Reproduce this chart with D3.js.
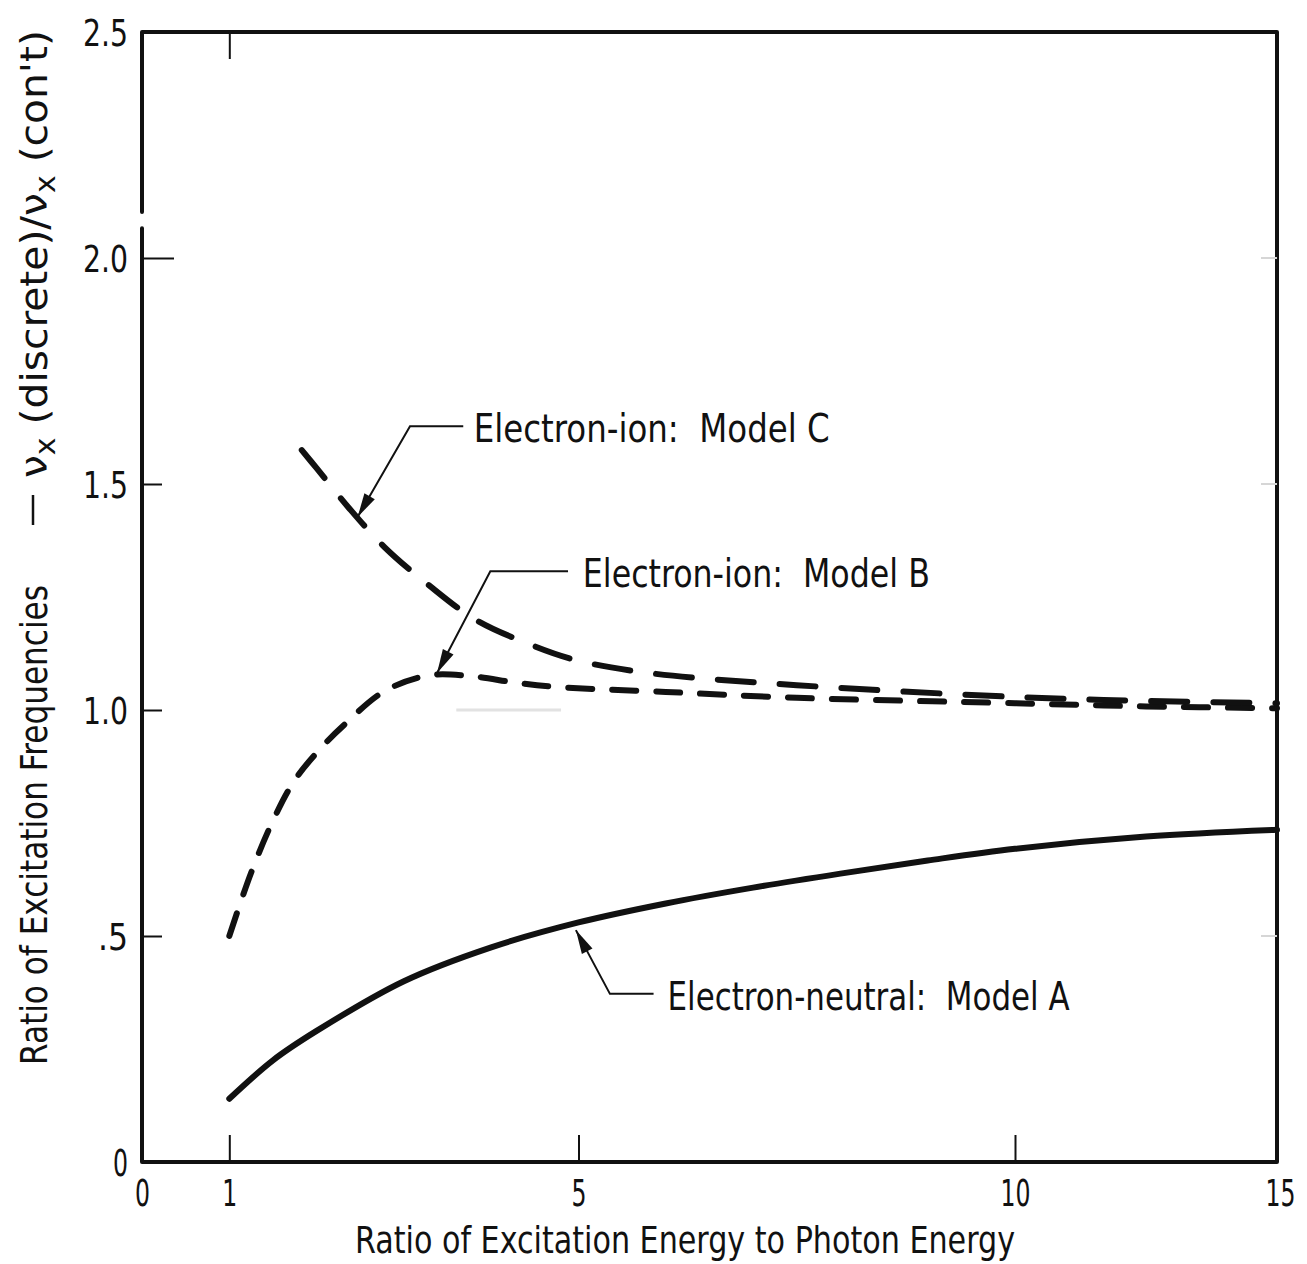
<!DOCTYPE html>
<html>
<head>
<meta charset="utf-8">
<script src="https://cdn.jsdelivr.net/npm/d3@7"></script>
<style>
  html, body { margin: 0; padding: 0; background: #fff; }
  svg { display: block; }
  text { font-family: "DejaVu Sans Condensed", "Liberation Sans Narrow", sans-serif; fill: #111; }
</style>
</head>
<body>
<svg id="chart" width="1307" height="1264"></svg>
<script>
// Ratio of excitation energy to photon energy (x) and frequency ratios (y)
const xTickValues = [0, 1, 5, 10, 15];
const xTickLabels = ["0", "1", "5", "10", "15"];
const yTickValues = [0, 0.5, 1.0, 1.5, 2.0, 2.5];
const yTickLabels = ["0", ".5", "1.0", "1.5", "2.0", "2.5"];

// Electron-neutral: Model A (solid)
const energyA = [1, 1.5, 2, 3, 4, 5, 6, 7, 8, 9, 10, 12.5, 15];
const modelA  = [0.14, 0.225, 0.29, 0.40, 0.475, 0.53, 0.572, 0.607, 0.638, 0.667, 0.693, 0.72, 0.735];

// Electron-ion: Model B (short dashes)
const energyB = [1, 1.25, 1.5, 1.75, 2.06, 2.32, 2.78, 3.3, 3.76, 4.3, 4.75, 6, 7.5, 10, 12.5, 15];
const modelB  = [0.50, 0.64, 0.755, 0.845, 0.918, 0.968, 1.042, 1.077, 1.075, 1.06, 1.051, 1.04, 1.027, 1.015, 1.008, 1.004];

// Electron-ion: Model C (long dashes)
const energyC = [1.83, 2.0, 2.37, 2.78, 3.28, 3.81, 4.38, 4.96, 5.8, 7.5, 10, 12.5, 15];
const modelC  = [1.575, 1.535, 1.447, 1.36, 1.277, 1.201, 1.15, 1.111, 1.082, 1.055, 1.029, 1.02, 1.015];

const ink = "#111";
const svg = d3.select("#chart");

// The printed abscissa is compressed beyond 10, so the scale has a knot there.
const x = d3.scaleLinear().domain([0, 10, 15]).range([142, 1015, 1277]);
const y = d3.scaleLinear().domain([0, 2.5]).range([1162, 32]);

// ---- frame (left edge has a small break just above 2.0)
svg.append("path")
  .attr("d", `M${x(0)},${y(0)}V${y(2.066)}M${x(0)},${y(2.102)}V${y(2.5)}H${x(15)}V${y(0)}H${x(0)}`)
  .attr("fill", "none").attr("stroke", ink).attr("stroke-width", 4)
  .attr("stroke-linejoin", "round").attr("stroke-linecap", "round");

// ---- y axis
const yAxis = svg.append("g").attr("transform", `translate(${x(0)},0)`)
  .call(d3.axisLeft(y).tickValues(yTickValues)
    .tickFormat((d, i) => yTickLabels[i]).tickSize(-20).tickPadding(14));
yAxis.select(".domain").remove();
yAxis.selectAll(".tick line").attr("stroke", ink).attr("stroke-width", 2)
  .attr("x2", d => d === 2.0 ? 32 : 20)
  .attr("display", d => (d === 0 || d === 2.5) ? "none" : null);
yAxis.selectAll(".tick text").attr("font-size", 37).attr("fill", ink)
  .attr("font-family", null).attr("dy", "0.36em")
  .attr("textLength", (d, i) => 15 * yTickLabels[i].length)
  .attr("lengthAdjust", "spacingAndGlyphs");

// faint right-hand ticks
svg.append("g").selectAll("line").data([0.5, 1.5, 2.0]).join("line")
  .attr("x1", x(15) - 16).attr("x2", x(15))
  .attr("y1", d => y(d)).attr("y2", d => y(d))
  .attr("stroke", "#d6d6d6").attr("stroke-width", 2);

// ---- x axis
const xAxis = svg.append("g").attr("transform", `translate(0,${y(0)})`)
  .call(d3.axisBottom(x).tickValues(xTickValues)
    .tickFormat((d, i) => xTickLabels[i]).tickSize(-27).tickPadding(18));
xAxis.select(".domain").remove();
xAxis.selectAll(".tick line").attr("stroke", ink).attr("stroke-width", 2)
  .attr("display", d => (d === 0 || d === 15) ? "none" : null);
xAxis.selectAll(".tick text").attr("font-size", 37).attr("fill", ink)
  .attr("font-family", null).attr("dy", "0.71em")
  .attr("dx", d => d === 15 ? 3 : 0)
  .attr("textLength", (d, i) => 15 * xTickLabels[i].length)
  .attr("lengthAdjust", "spacingAndGlyphs");

// single tick on the top edge at x = 1
const topAxis = svg.append("g").attr("transform", `translate(0,${y(2.5)})`)
  .call(d3.axisTop(x).tickValues([1]).tickSize(-27).tickFormat(""));
topAxis.select(".domain").remove();
topAxis.selectAll(".tick line").attr("stroke", ink).attr("stroke-width", 2);

// faint guide at unity
svg.append("line")
  .attr("x1", x(3.6)).attr("x2", x(4.8)).attr("y1", y(1.0)).attr("y2", y(1.0))
  .attr("stroke", "#e2e2e2").attr("stroke-width", 3);

// ---- axis titles
svg.append("text")
  .attr("x", 355).attr("y", 1253)
  .attr("font-size", 38)
  .attr("textLength", 660).attr("lengthAdjust", "spacingAndGlyphs")
  .text("Ratio of Excitation Energy to Photon Energy");

const yTitle = svg.append("g").attr("transform", "translate(47,1065) rotate(-90)");
yTitle.append("text").attr("x", 0).attr("y", 0)
  .attr("font-size", 38)
  .attr("textLength", 480).attr("lengthAdjust", "spacingAndGlyphs")
  .text("Ratio of Excitation Frequencies");
yTitle.append("line").attr("x1", 540).attr("x2", 570).attr("y1", -14).attr("y2", -14)
  .attr("stroke", ink).attr("stroke-width", 2.5);
const nuText = yTitle.append("text").attr("x", 587).attr("y", 0)
  .attr("font-size", 38)
  .attr("textLength", 448).attr("lengthAdjust", "spacingAndGlyphs");
nuText.append("tspan").text("ν");
nuText.append("tspan").attr("dy", 8).attr("font-size", 28).text("x");
nuText.append("tspan").attr("dy", -8).text(" (discrete)/ν");
nuText.append("tspan").attr("dy", 8).attr("font-size", 28).text("x");
nuText.append("tspan").attr("dy", -8).text(" (con't)");

// ---- curves
const line = d3.line().x(d => x(d[0])).y(d => y(d[1])).curve(d3.curveCatmullRom.alpha(0.5));

svg.append("path").datum(d3.zip(energyA, modelA))
  .attr("d", line).attr("fill", "none").attr("stroke", ink)
  .attr("stroke-width", 6).attr("stroke-linecap", "round");

svg.append("path").datum(d3.zip(energyB, modelB))
  .attr("d", line).attr("fill", "none").attr("stroke", ink)
  .attr("stroke-width", 6).attr("stroke-linecap", "round")
  .attr("stroke-dasharray", "24 20");

svg.append("path").datum(d3.zip(energyC, modelC))
  .attr("d", line).attr("fill", "none").attr("stroke", ink)
  .attr("stroke-width", 6).attr("stroke-linecap", "round")
  .attr("stroke-dasharray", "36 26");

// ---- callouts: tip on the curve, elbow, end of the horizontal rule, label
const callouts = [
  { label: "Electron-ion:  Model C",     tip: [2.47, 1.427], elbow: [3.07, 1.628], end: 3.68, textX: 3.80, width: 356 },
  { label: "Electron-ion:  Model B",     tip: [3.38, 1.082], elbow: [3.99, 1.307], end: 4.88, textX: 5.05, width: 347 },
  { label: "Electron-neutral:  Model A", tip: [4.97, 0.513], elbow: [5.36, 0.372], end: 5.86, textX: 6.02, width: 402 }
];

const co = svg.append("g");
callouts.forEach(c => {
  const tx = x(c.tip[0]), ty = y(c.tip[1]);
  const ex = x(c.elbow[0]), ey = y(c.elbow[1]);
  co.append("path")
    .attr("d", `M${x(c.end)},${ey}H${ex}L${tx},${ty}`)
    .attr("fill", "none").attr("stroke", ink).attr("stroke-width", 2);
  // arrowhead
  const ang = Math.atan2(ty - ey, tx - ex);
  const L = 24, W = 6;
  const bx = tx - L * Math.cos(ang), by = ty - L * Math.sin(ang);
  const px = -Math.sin(ang) * W, py = Math.cos(ang) * W;
  co.append("path")
    .attr("d", `M${tx},${ty}L${bx + px},${by + py}L${bx - px},${by - py}Z`)
    .attr("fill", ink);
  co.append("text")
    .attr("x", x(c.textX)).attr("y", ey + 16)
    .attr("font-size", 39)
    .attr("textLength", c.width).attr("lengthAdjust", "spacingAndGlyphs")
    .style("white-space", "pre")
    .text(c.label);
});
</script>
</body>
</html>
